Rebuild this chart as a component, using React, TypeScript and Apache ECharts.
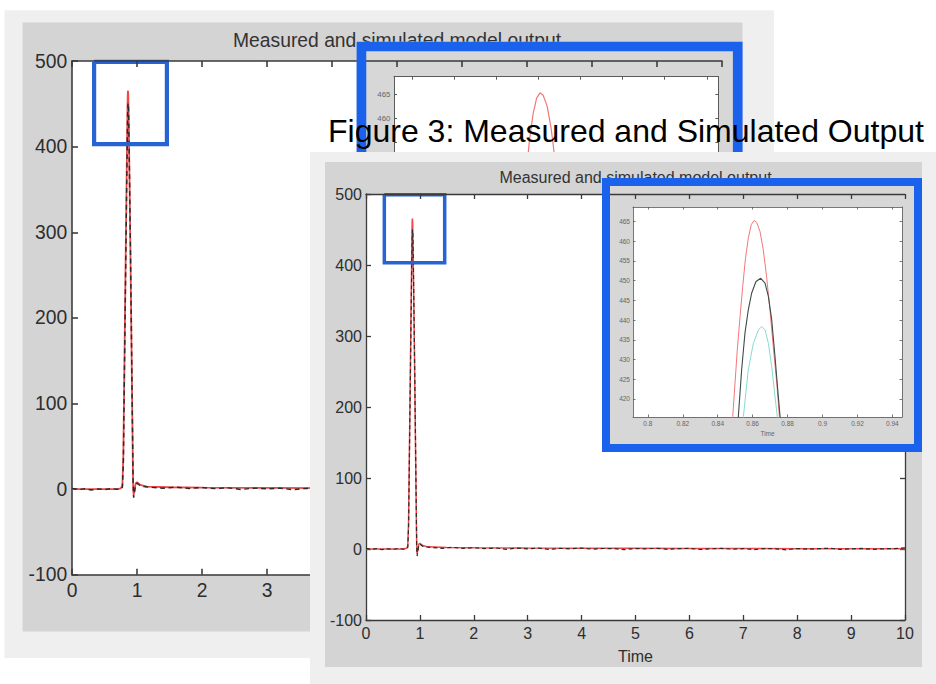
import React, { useEffect, useRef } from "react";
import * as echarts from "echarts";

// ---------------- data ----------------
const measuredTime = [
  0, 0.1, 0.2, 0.3, 0.4, 0.5, 0.6, 0.7, 0.75, 0.775, 0.79, 0.8, 0.82, 0.835,
  0.8518, 0.8537, 0.8556, 0.8575, 0.8594, 0.8619, 0.8646, 0.8671, 0.869, 0.8709, 0.8728, 0.8747, 0.8757,
  0.885, 0.9, 0.915, 0.93, 0.94, 0.948, 0.96, 0.98, 1.0, 1.05, 1.1,
  1.2, 1.4, 1.6, 1.8, 2, 2.2, 2.4, 2.6, 2.8, 3, 3.2, 3.4, 3.6, 3.8, 4, 4.2, 4.4, 4.6, 4.8, 5,
  5.2, 5.4, 5.6, 5.8, 6, 6.2, 6.4, 6.6, 6.8, 7, 7.2, 7.4, 7.6, 7.8, 8, 8.2, 8.4, 8.6, 8.8, 9,
  9.2, 9.4, 9.6, 9.8, 10,
];
const measuredValue = [
  0.8, -0.6, 0.5, -1.0, 0.3, -0.5, 0.7, -0.2, 0.5, 2, 30, 95, 220, 315,
  415.5, 427.4, 436.7, 442.6, 446.8, 449.8, 450.6, 449.4, 446.0, 440.1, 430.7, 420.6, 415.5,
  365, 275, 175, 75, 8, -10, -4, 5, 7, 4, 3,
  2.2, 1.0, 2.4, 0.8, 1.9, 0.6, 1.5, -0.4, 1.2, 0.3, 1.1, -0.6, 0.9, 0.2, 1.4, -0.3, 0.7, 0.5, -0.8, 0.6,
  0.1, 1.0, -0.5, 0.4, 0.9, -0.7, 0.3, 0.8, -0.2, 0.5, -0.9, 0.6, 0.2, -1.2, 0.7, -0.3, 0.4, 1.1, -0.4, 0.2,
  0.8, -0.5, 0.3, 0.6, 1.5,
];
const simulatedTime = [
  0, 0.5, 0.7, 0.75, 0.775, 0.79, 0.8, 0.82, 0.835,
  0.8486, 0.8499, 0.8512, 0.8528, 0.8543, 0.8558, 0.8575, 0.8592, 0.8608, 0.8623, 0.8642, 0.8661, 0.868,
  0.8699, 0.8718, 0.8738, 0.8753,
  0.885, 0.9, 0.915, 0.93, 0.94, 0.948, 0.96, 0.98, 1.0, 1.05, 1.15, 1.5,
  2, 3, 4, 5, 6, 7, 8, 9, 10,
];
const simulatedValue = [
  0, 0, 0, 1, 4, 40, 105, 235, 330,
  415.5, 424.0, 432.4, 440.9, 448.5, 455.3, 460.8, 464.2, 465.3, 464.8, 462.5, 457.8, 451.0,
  442.6, 433.3, 424.0, 415.5,
  360, 270, 170, 70, 5, -7, -2, 7, 8, 5, 3, 2.2,
  1.8, 1.4, 1.1, 0.9, 0.7, 0.6, 0.5, 0.4, 0.3,
];
const simulated2Time = [0.8535, 0.8547, 0.8575, 0.8604, 0.8633, 0.8652, 0.8671, 0.869, 0.8709, 0.8728, 0.8741, 0.8752];
const simulated2Value = [400, 415.5, 427.4, 434.1, 437.5, 438.4, 437.5, 434.1, 428.2, 420.6, 415.5, 405];

const zoomBoxTime = [0.34, 1.46, 1.46, 0.34, 0.34];
const zoomBoxLevel = [499, 499, 403, 403, 499];

const mainTimeTicks = [0, 1, 2, 3, 4, 5, 6, 7, 8, 9, 10];
const backVisibleTimeTicks = [0, 1, 2, 3];
const insetTimeTicks = [0.8, 0.82, 0.84, 0.86, 0.88, 0.9, 0.92, 0.94];
const insetLevelTicks = [420, 425, 430, 435, 440, 445, 450, 455, 460, 465];
const backVisibleLevelTicks = [460, 465];
const insetTimeRange = [0.7915, 0.9455];
const insetLevelRange = [415.4, 468.7];

const mainTimeRange = [0, 10];
const mainLevelRange = [-100, 500];

const TITLE = "Measured and simulated model output";
const CAPTION = "Figure 3: Measured and Simulated Output";

// ---------------- styling / layout ----------------
const FONT = '"Liberation Sans", Arial, Helvetica, sans-serif';
const AXC = "#3a3a3a";
const TXT = "#2e2e2e";
const RED = "#ee4848";
const BOXBLUE = "#2763d2";
const BORDERBLUE = "#1a62ec";

const PW = 539;
const PH = 426;

const pairs = (t: number[], v: number[]) => t.map((x, i) => [x, v[i]]);

function addFigure(opt: any, ox: number, oy: number, s: number, B: number, back: boolean) {
  const X = (r: number) => ox + r * s;
  const Y = (r: number) => oy + r * s;
  const g = opt.graphic;

  // panels
  g.push({ type: "rect", z: B, silent: true, shape: { x: X(-56), y: Y(-42), width: 638 * s, height: 537 * s }, style: { fill: "#efefef" } });
  g.push({ type: "rect", z: B + 1, silent: true, shape: { x: X(-41), y: Y(-32), width: 597 * s, height: 505 * s }, style: { fill: "#d4d4d4" } });
  g.push({ type: "rect", z: B + 2, silent: true, shape: { x: X(0), y: Y(0), width: PW * s, height: PH * s }, style: { fill: "#ffffff" } });
  g.push({
    type: "text", z: B + 5, silent: true, x: X(269.5), y: Y(-17),
    style: { text: TITLE, fontSize: 16 * s, fontFamily: FONT, fill: "#333", align: "center", verticalAlign: "middle" },
  });
  // inset panel
  g.push({ type: "rect", z: B + 6, silent: true, shape: { x: X(236), y: Y(-16), width: 320 * s, height: 274 * s }, style: { fill: "#d7d7d7" } });
  g.push({ type: "rect", z: B + 8, silent: true, shape: { x: X(267), y: Y(13), width: 269 * s, height: 210 * s }, style: { fill: "#ffffff" } });
  g.push({
    type: "rect", z: B + 11, silent: true, shape: { x: X(240), y: Y(-12), width: 312 * s, height: 266 * s },
    style: { fill: "none", stroke: BORDERBLUE, lineWidth: 8 * s },
  });

  // grids
  const gMain = opt.grid.length;
  opt.grid.push({ left: X(0), top: Y(0), width: PW * s, height: PH * s });
  const gIn = opt.grid.length;
  opt.grid.push({ left: X(267), top: Y(13), width: 269 * s, height: 210 * s });

  const ls = { color: AXC, width: 1.3 * s };
  const tick = { show: true, inside: true, length: 5 * s, lineStyle: ls };
  const lab = { fontSize: 16 * s, color: TXT, fontFamily: FONT };

  const xb = opt.xAxis.length;
  opt.xAxis.push({
    type: "value", gridIndex: gMain, position: "bottom", min: mainTimeRange[0], max: mainTimeRange[1], interval: 1, z: B + 3,
    axisLine: { show: true, onZero: false, lineStyle: ls }, axisTick: tick,
    axisLabel: { ...lab, margin: 5 * s, customValues: back ? backVisibleTimeTicks : mainTimeTicks },
    splitLine: { show: false },
    name: back ? "" : "Time", nameLocation: "middle", nameGap: 28 * s, nameTextStyle: { ...lab },
  });
  opt.xAxis.push({
    type: "value", gridIndex: gMain, position: "top", min: mainTimeRange[0], max: mainTimeRange[1], interval: 1, z: B + 7,
    axisLine: { show: true, onZero: false, lineStyle: ls }, axisTick: tick, axisLabel: { show: false }, splitLine: { show: false },
  });
  const yl = opt.yAxis.length;
  opt.yAxis.push({
    type: "value", gridIndex: gMain, position: "left", min: mainLevelRange[0], max: mainLevelRange[1], interval: 100, z: B + 3,
    axisLine: { show: true, onZero: false, lineStyle: ls }, axisTick: tick,
    axisLabel: { ...lab, margin: 4 * s }, splitLine: { show: false },
  });
  opt.yAxis.push({
    type: "value", gridIndex: gMain, position: "right", min: mainLevelRange[0], max: mainLevelRange[1], interval: 100, z: B + 3,
    axisLine: { show: true, onZero: false, lineStyle: ls }, axisTick: tick, axisLabel: { show: false }, splitLine: { show: false },
  });

  // inset axes
  const ils = { color: "#555", width: 0.8 * s };
  const ilab = { fontSize: 6.5 * s, color: "#666", fontFamily: FONT };
  const ixb = opt.xAxis.length;
  opt.xAxis.push({
    type: "value", gridIndex: gIn, position: "bottom", min: insetTimeRange[0], max: insetTimeRange[1], z: B + 9,
    axisLine: { show: true, onZero: false, lineStyle: ils },
    axisTick: { show: true, inside: true, length: 2.5 * s, lineStyle: ils, customValues: insetTimeTicks },
    axisLabel: {
      ...ilab, show: !back, margin: 2.5 * s, customValues: insetTimeTicks,
      formatter: (v: number) => String(Math.round(v * 100) / 100),
    },
    splitLine: { show: false },
    name: back ? "" : "Time", nameLocation: "middle", nameGap: 13 * s, nameTextStyle: { ...ilab },
  });
  opt.xAxis.push({
    type: "value", gridIndex: gIn, position: "top", min: insetTimeRange[0], max: insetTimeRange[1], z: B + 9,
    axisLine: { show: true, onZero: false, lineStyle: ils },
    axisTick: { show: true, inside: true, length: 2.5 * s, lineStyle: ils, customValues: insetTimeTicks },
    axisLabel: { show: false }, splitLine: { show: false },
  });
  const iyl = opt.yAxis.length;
  opt.yAxis.push({
    type: "value", gridIndex: gIn, position: "left", min: insetLevelRange[0], max: insetLevelRange[1], z: B + 9,
    axisLine: { show: true, onZero: false, lineStyle: ils },
    axisTick: { show: true, inside: true, length: 2.5 * s, lineStyle: ils, customValues: insetLevelTicks },
    axisLabel: { ...ilab, margin: 3 * s, customValues: back ? backVisibleLevelTicks : insetLevelTicks },
    splitLine: { show: false },
  });
  opt.yAxis.push({
    type: "value", gridIndex: gIn, position: "right", min: insetLevelRange[0], max: insetLevelRange[1], z: B + 9,
    axisLine: { show: true, onZero: false, lineStyle: ils },
    axisTick: { show: true, inside: true, length: 2.5 * s, lineStyle: ils, customValues: insetLevelTicks },
    axisLabel: { show: false }, splitLine: { show: false },
  });

  // main series
  opt.series.push({
    type: "line", xAxisIndex: xb, yAxisIndex: yl, data: pairs(simulatedTime, simulatedValue), symbol: "none", silent: true,
    lineStyle: { color: RED, width: 1.5 * s }, z: B + 4,
  });
  opt.series.push({
    type: "line", xAxisIndex: xb, yAxisIndex: yl, data: pairs(measuredTime, measuredValue), symbol: "none", silent: true,
    lineStyle: { color: "#2a2a2a", width: 1.2 * s, type: [4 * s, 3 * s] }, z: B + 4,
  });
  opt.series.push({
    type: "line", xAxisIndex: xb, yAxisIndex: yl, data: pairs(zoomBoxTime, zoomBoxLevel), symbol: "none", silent: true, clip: false,
    lineStyle: { color: BOXBLUE, width: 3.5 * s, join: "miter" }, z: B + 4,
  });
  // inset series
  opt.series.push({
    type: "line", xAxisIndex: ixb, yAxisIndex: iyl, data: pairs(simulatedTime, simulatedValue), symbol: "none", silent: true,
    lineStyle: { color: "#f27878", width: 1 * s }, z: B + 10,
  });
  opt.series.push({
    type: "line", xAxisIndex: ixb, yAxisIndex: iyl, data: pairs(measuredTime, measuredValue), symbol: "none", silent: true,
    lineStyle: { color: "#3f4b47", width: 1.1 * s }, z: B + 10,
  });
  opt.series.push({
    type: "line", xAxisIndex: ixb, yAxisIndex: iyl, data: pairs(simulated2Time, simulated2Value), symbol: "none", silent: true,
    lineStyle: { color: "#86dccf", width: 1 * s }, z: B + 10,
  });
}

export default function App() {
  const ref = useRef<HTMLDivElement>(null);
  useEffect(() => {
    if (!ref.current) return;
    const chart = echarts.init(ref.current, undefined, { renderer: "svg" });
    const opt: any = { animation: false, grid: [], xAxis: [], yAxis: [], series: [], graphic: [] };
    addFigure(opt, 72, 61, 1.206, 0, true); // back figure
    addFigure(opt, 366, 194, 1, 20, false); // front figure
    opt.graphic.push({
      type: "text", z: 50, silent: true, x: 328, y: 131,
      style: { text: CAPTION, fontSize: 32, fontFamily: FONT, fill: "#000", verticalAlign: "middle" },
    });
    chart.setOption(opt);
    return () => chart.dispose();
  }, []);
  return (
    <div
      ref={ref}
      style={{ position: "absolute", left: 0, top: 0, width: 936, height: 684, background: "#ffffff" }}
    />
  );
}
